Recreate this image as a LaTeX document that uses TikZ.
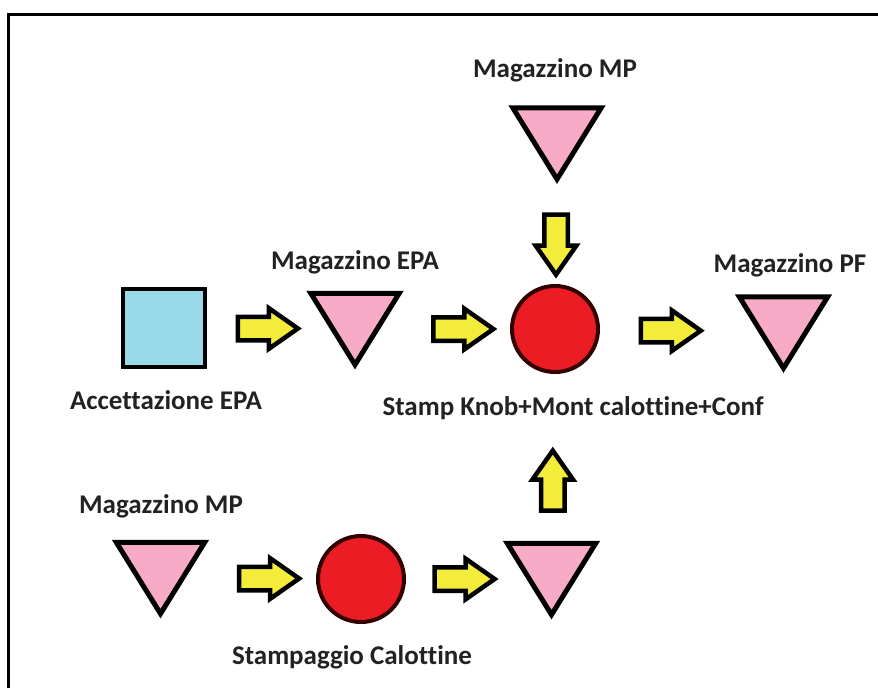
\documentclass[tikz,border=0pt]{standalone}
\usepackage{fontspec}
\setmainfont{Carlito}[Ligatures=NoCommon]
\usetikzlibrary{shapes.arrows,calc}
\definecolor{boxblue}{HTML}{99D9EA}
\definecolor{stockpink}{HTML}{F7ABC6}
\definecolor{oprred}{HTML}{EC1C24}
\definecolor{flowyellow}{HTML}{F4EC3A}
\definecolor{labelgray}{HTML}{222222}
\begin{document}
\begin{tikzpicture}[x=1pt,y=-1pt,
  txt/.style={font=\fontsize{27}{32}\selectfont\bfseries, text=labelgray, inner sep=0pt},
  stockspace/.style={minimum width=88pt, minimum height=71pt, inner sep=0pt},
  stocktri/.style={draw=black, fill=stockpink, line width=5pt, line join=miter},
  operation/.style={circle, draw=black!80!red, fill=oprred, line width=4pt, minimum size=86pt, inner sep=0pt},
  inspection/.style={rectangle, draw=black, fill=boxblue, line width=4.5pt, minimum width=82pt, minimum height=78pt, inner sep=0pt},
  flow/.style={single arrow, draw=black, fill=flowyellow, line width=4.5pt, minimum height=60pt,
    inner sep=9.5pt, single arrow head extend=8.5pt,
    single arrow tip angle=70, single arrow head indent=0pt}
]
% page and frame
\useasboundingbox (0,0) rectangle (878,688);
\fill[white] (0,0) rectangle (878,688);
\draw[line width=3pt] (8,688) -- (8,14) -- (878,14);

% stock points (inverted triangles)
\node[stockspace] (mpTop) at (557,143.5) {};
\node[stockspace] (mpEPA) at (355,329) {};
\node[stockspace] (mpPF)  at (783.5,332.5) {};
\node[stockspace] (mpLow) at (160.5,578) {};
\node[stockspace] (mpCal) at (551.5,579) {};
\foreach \t in {mpTop,mpEPA,mpPF,mpLow,mpCal}
  \draw[stocktri] (\t.north west) -- (\t.north east) -- (\t.south) -- cycle;

% inspection and operations
\node[inspection] (accept) at (164,328) {};
\node[operation] (assembly) at (555,329) {};
\node[operation] (molding) at (361,579) {};

% material flow
\node[flow] (f1) at ($(accept)!0.5!(mpEPA)$) {};
\node[flow] (f2) at ($(mpEPA)!0.5!(assembly)$) {};
\node[flow] (f3) at ($(assembly)!0.47!(mpPF)$) {};
\node[flow, shape border rotate=270] (f4) at ($(mpTop)!0.5!(assembly)$) {};
\node[flow, shape border rotate=90] (f5) at ($(mpCal)!0.36!(assembly)$) {};
\node[flow] (f6) at ($(mpLow)!0.5!(molding)$) {};
\node[flow] (f7) at ($(molding)!0.5!(mpCal)$) {};

% labels
\node[txt] (lTop) at (555,70) {Magazzino MP};
\node[txt] (lEPA) at (355,262) {Magazzino EPA};
\node[txt] (lPF)  at (790,265) {Magazzino PF};
\node[txt] (lAcc) at (166,400) {Accettazione EPA};
\node[txt] (lAsm) at (573,408) {Stamp Knob+Mont calottine+Conf};
\node[txt] (lLow) at (161,506) {Magazzino MP};
\node[txt] (lCal) at (352,657) {Stampaggio Calottine};
\end{tikzpicture}
\end{document}
